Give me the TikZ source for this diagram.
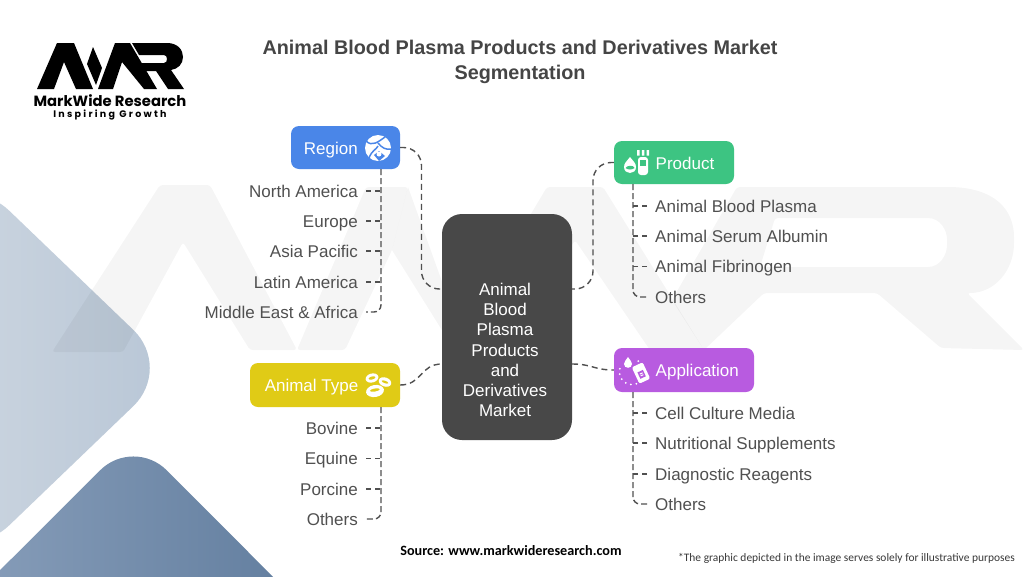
\documentclass[tikz,border=0pt]{standalone}
\usepackage{fontspec}
\setmainfont{Liberation Sans}
\newfontfamily\srcfont{Carlito}
\newfontfamily\logofont{Poppins}
\newfontfamily\logospaced[LetterSpace=24]{Poppins}
\usetikzlibrary{calc}
\definecolor{wm}{HTML}{000000}
\definecolor{txt}{HTML}{505050}
\definecolor{ttl}{HTML}{454545}
\definecolor{dash}{HTML}{505050}
\definecolor{cbox}{HTML}{484848}
\definecolor{cblue}{HTML}{4A86E8}
\definecolor{cgreen}{HTML}{3DC482}
\definecolor{cyellow}{HTML}{E0CB16}
\definecolor{cpurple}{HTML}{B85BE0}
\definecolor{paleL}{HTML}{CAD4DF}
\definecolor{paleR}{HTML}{B8C6D6}
\definecolor{deepL}{HTML}{8FA4BF}
\definecolor{deepR}{HTML}{5A7799}
\tikzset{
  box/.style={rounded corners=8pt,inner sep=0pt,draw=none},
  boxtext/.style={text=white,font=\fontsize{17}{20}\selectfont,inner sep=0pt,text height=14pt,text depth=2pt},
  leaf/.style={text=txt,font=\fontsize{17}{20}\selectfont,inner xsep=8pt,inner ysep=0pt,text height=14pt,text depth=2pt},
  conn/.style={draw=dash,line width=1.4pt,dash pattern=on 6pt off 4pt},
  twig/.style={draw=dash,line width=1.4pt,dash pattern=on 6pt off 3pt},
  tick/.style={draw=dash,line width=1.4pt,dash pattern=on 5pt off 4pt},
  ic/.style={fill=white,draw=none},
  logo/.style={fill=black,draw=none},
}
\begin{document}
\begin{tikzpicture}[x=1pt,y=-1pt]
\useasboundingbox (0,0) rectangle (1024,576);
\fill[white] (0,0) rectangle (1024,576);
% background shapes
\begin{scope}
\clip (0,0) rectangle (1024,576);
\path[left color=paleL,right color=paleR,rounded corners=55pt] (-30,173) -- (173,368) -- (-30,563) -- cycle;
\path[left color=deepL,right color=deepR,rounded corners=47pt] (-100,670) -- (133.5,437) -- (370,674) -- cycle;
% watermark
\begin{scope}[fill=wm,fill opacity=.04]
\fill[rounded corners=3pt] (52,352) -- (160,185) -- (210,185) -- (297,350) -- (250,350) -- (183,242) -- (123,352) -- cycle;
\fill[rounded corners=3pt] (297,350) -- (366,187) -- (408,187) -- (392,250) -- (345,350) -- cycle;
\fill (392,250) -- (408,187) -- (445,290) -- (445,335) -- cycle;
\fill[rounded corners=3pt] (450,350) -- (547,187) -- (603,187) -- (704,350) -- (650,350) -- (575,240) -- (507,350) -- cycle;
\fill[even odd rule,rounded corners=3pt] (737,187) -- (945,187) .. controls (995,187) and (1014,210) .. (1014,240) .. controls (1014,270) and (995,293) .. (967,293) -- (1024,350) -- (941,348) -- (877,293) -- (764,293) -- (704,350) -- (672,300) -- cycle
 (775,218) -- (925,218) .. controls (940,218) and (947,230) .. (947,242) .. controls (947,255) and (940,267) .. (925,267) -- (760,267) -- cycle;
\end{scope}
\end{scope}
% logo
\fill[logo] (37,89) -- (57,43) -- (74,43) -- (93,89) -- (76,89) -- (64,62) -- (54,89) -- cycle;
\fill[logo] (93,47) -- (102,68) -- (96,85) -- (87,64) -- cycle;
\fill[logo] (98,89) -- (115,43) -- (130,43) -- (157,89) -- (144,89) -- (122,62) -- (113,89) -- cycle;
\fill[logo,even odd rule] (132,43) -- (167,43) .. controls (178,43) and (183,50) .. (183,57) .. controls (183,64) and (178,69) .. (171,70) -- (184,89) -- (168,89) -- (156,71) -- (145,71) -- (141,63) -- (164,63) .. controls (168,63) and (168,55) .. (164,55) -- (139,55) -- cycle;
\node[inner sep=0pt,font=\logofont\bfseries\fontsize{14.8}{16}\selectfont,text height=9pt,text depth=0pt] (brand) at (110,102) {MarkWide Research};
\node[inner sep=0pt,font=\logospaced\bfseries\fontsize{9.5}{11}\selectfont,text height=7pt,text depth=1pt] (tagline) at (110,114.5) {Inspiring Growth};
% title
\node[inner sep=0pt,align=center,text=ttl,font=\bfseries\fontsize{19.8}{25}\selectfont] (title) at (520,61.5) {Animal Blood Plasma Products and Derivatives Market\\Segmentation};
% centre
\node[box,rounded corners=20pt,fill=cbox,minimum width=130pt,minimum height=226pt] (center) at (507,327) {};
\node[inner sep=0pt,align=center,text=white,font=\fontsize{17}{20.2}\selectfont] (centertext) at (505,350) {Animal\\Blood\\Plasma\\Products\\and\\Derivatives\\Market};
% category boxes
\node[box,fill=cblue,minimum width=109pt,minimum height=43pt] (region) at (345.5,147.5) {};
\node[box,fill=cgreen,minimum width=120pt,minimum height=43pt] (product) at (674,162.5) {};
\node[box,fill=cyellow,minimum width=150pt,minimum height=44pt] (animal) at (325,385) {};
\node[box,fill=cpurple,minimum width=140pt,minimum height=44pt] (application) at (684,370) {};
\node[boxtext,anchor=east] (regiont) at (358,148) {Region};
\node[boxtext,anchor=west] (productt) at (655.5,163) {Product};
\node[boxtext,anchor=east] (animalt) at (358.5,385) {Animal Type};
\node[boxtext,anchor=west] (applicationt) at (655.5,370) {Application};
% icons
\begin{scope}
\fill[ic] (378,148) circle (13);
\draw[cblue,line width=1.5pt] (366,141) .. controls (372,147) and (378,142) .. (385,137);
\draw[cblue,line width=1.5pt] (378,143) .. controls (382,148) and (386,150) .. (391,149);
\draw[cblue,line width=1.5pt] (369,158) .. controls (372,150) and (376,150) .. (378,146);
\fill[cblue] (379,151) -- (385,156) -- (379,161) -- (374,155) -- cycle;
\fill[white] (379,154) circle (2.5);
\end{scope}
\begin{scope}
\fill[ic] (630,157) .. controls (633,161) and (636,163) .. (636,167) .. controls (636,175) and (624,175) .. (624,167) .. controls (624,163) and (627,161) .. (630,157) -- cycle;
\fill[cgreen] (625.5,168) .. controls (628,170) and (632,170) .. (634.5,168) .. controls (634,165) and (627,165) .. (625.5,168) -- cycle;
\fill[ic,rounded corners=3pt] (638,157) -- (648,157) -- (648,175) -- (638,175) -- cycle;
\fill[cgreen] (640,159.5) rectangle (646,166);
\fill[ic] (637,150) rectangle (639.5,155.5) (641.8,150) rectangle (644.3,155.5) (646.5,150) rectangle (649,155.5);
\end{scope}
\begin{scope}
\fill[ic,rotate around={15:(372,378)}] (372,378) ellipse (6.5 and 4.5);
\fill[cyellow,rotate around={15:(372,378)}] (372,378) ellipse (3.5 and 1.5);
\fill[ic,rotate around={-20:(385,382)}] (385,382) ellipse (6.5 and 4.5);
\fill[cyellow,rotate around={-20:(385,382)}] (385,382) ellipse (3.5 and 1.2);
\fill[ic,rotate around={10:(375,391)}] (375,391) ellipse (9 and 6);
\fill[cyellow,rotate around={10:(375,391)}] (375,390) ellipse (5 and 1.5);
\end{scope}
\begin{scope}
\fill[ic] (628,357) .. controls (630,360) and (632,362) .. (632,364) .. controls (632,369) and (624,369) .. (624,364) .. controls (624,362) and (626,360) .. (628,357) -- cycle;
\fill[ic,rotate around={25:(641,373)},rounded corners=2pt] (635,364) rectangle (647,382);
\fill[cpurple,rotate around={25:(641,373)}] (638,371) rectangle (644,378);
\fill[ic,rotate around={25:(641,373)}] (639.5,373) rectangle (642.5,374) (639.5,375) rectangle (642.5,376);
\foreach \a in {-60,-35,-10,120,145,170,195,95,70}{\fill[ic] ($(632,372)+(\a:12.5)$) circle (1);}
\end{scope}
% leaves
\node[leaf,anchor=east] (r1) at (366,191) {North America};
\node[leaf,anchor=east] (r2) at (366,221) {Europe};
\node[leaf,anchor=east] (r3) at (366,251) {Asia Pacific};
\node[leaf,anchor=east] (r4) at (366,282) {Latin America};
\node[leaf,anchor=east] (r5) at (366,312) {Middle East \& Africa};
\node[leaf,anchor=west] (p1) at (647,206) {Animal Blood Plasma};
\node[leaf,anchor=west] (p2) at (647,236) {Animal Serum Albumin};
\node[leaf,anchor=west] (p3) at (647,266.5) {Animal Fibrinogen};
\node[leaf,anchor=west] (p4) at (647,297) {Others};
\node[leaf,anchor=east] (a1) at (366,428) {Bovine};
\node[leaf,anchor=east] (a2) at (366,458.5) {Equine};
\node[leaf,anchor=east] (a3) at (366,489) {Porcine};
\node[leaf,anchor=east] (a4) at (366,519) {Others};
\node[leaf,anchor=west] (b1) at (647,413) {Cell Culture Media};
\node[leaf,anchor=west] (b2) at (647,443) {Nutritional Supplements};
\node[leaf,anchor=west] (b3) at (647,474) {Diagnostic Reagents};
\node[leaf,anchor=west] (b4) at (647,504) {Others};
% trunk anchors
\coordinate (rt) at (381,169);
\coordinate (pt) at (633,184);
\coordinate (at) at (381,407);
\coordinate (bt) at (633,392);
\coordinate (rm) at (421.5,220);
\coordinate (pm) at (593,220);
\coordinate (cr) at (442,289);
\coordinate (cp) at (572,289);
\coordinate (ca) at (442,364);
\coordinate (cb) at (572,364);
% trunks
\draw[twig,rounded corners=7pt] (rt) |- (r5.east);
\draw[twig,rounded corners=7pt] (pt) |- (p4.west);
\draw[twig,rounded corners=7pt] (at) |- (a4.east);
\draw[twig,rounded corners=7pt] (bt) |- (b4.west);
\foreach \n in {r1,r2,r3,r4}{\draw[tick] (\n.east) -- (\n.east -| rt);}
\foreach \n in {a1,a2,a3}{\draw[tick] (\n.east) -- (\n.east -| at);}
\foreach \n in {p1,p2,p3}{\draw[tick] (\n.west) -- (\n.west -| pt);}
\foreach \n in {b1,b2,b3}{\draw[tick] (\n.west) -- (\n.west -| bt);}
% main connectors
\draw[conn,rounded corners=18pt] (region.east) -| (rm) |- (cr);
\draw[conn,rounded corners=18pt] (product.west) -| (pm) |- (cp);
\draw[conn] (animal.east) .. controls (422,385) and (420,364) .. (ca);
\draw[conn] (cb) .. controls (592,364) and (594,370) .. (application.west);
% footer
\node[inner sep=0pt,font=\srcfont\bfseries\fontsize{14.2}{16}\selectfont] (source) at (511,551) {Source: www.markwideresearch.com};
\node[inner sep=0pt,text=txt!70!black,font=\srcfont\fontsize{11.45}{14}\selectfont] (note) at (846.5,558) {*The graphic depicted in the image serves solely for illustrative purposes};
\end{tikzpicture}
\end{document}
